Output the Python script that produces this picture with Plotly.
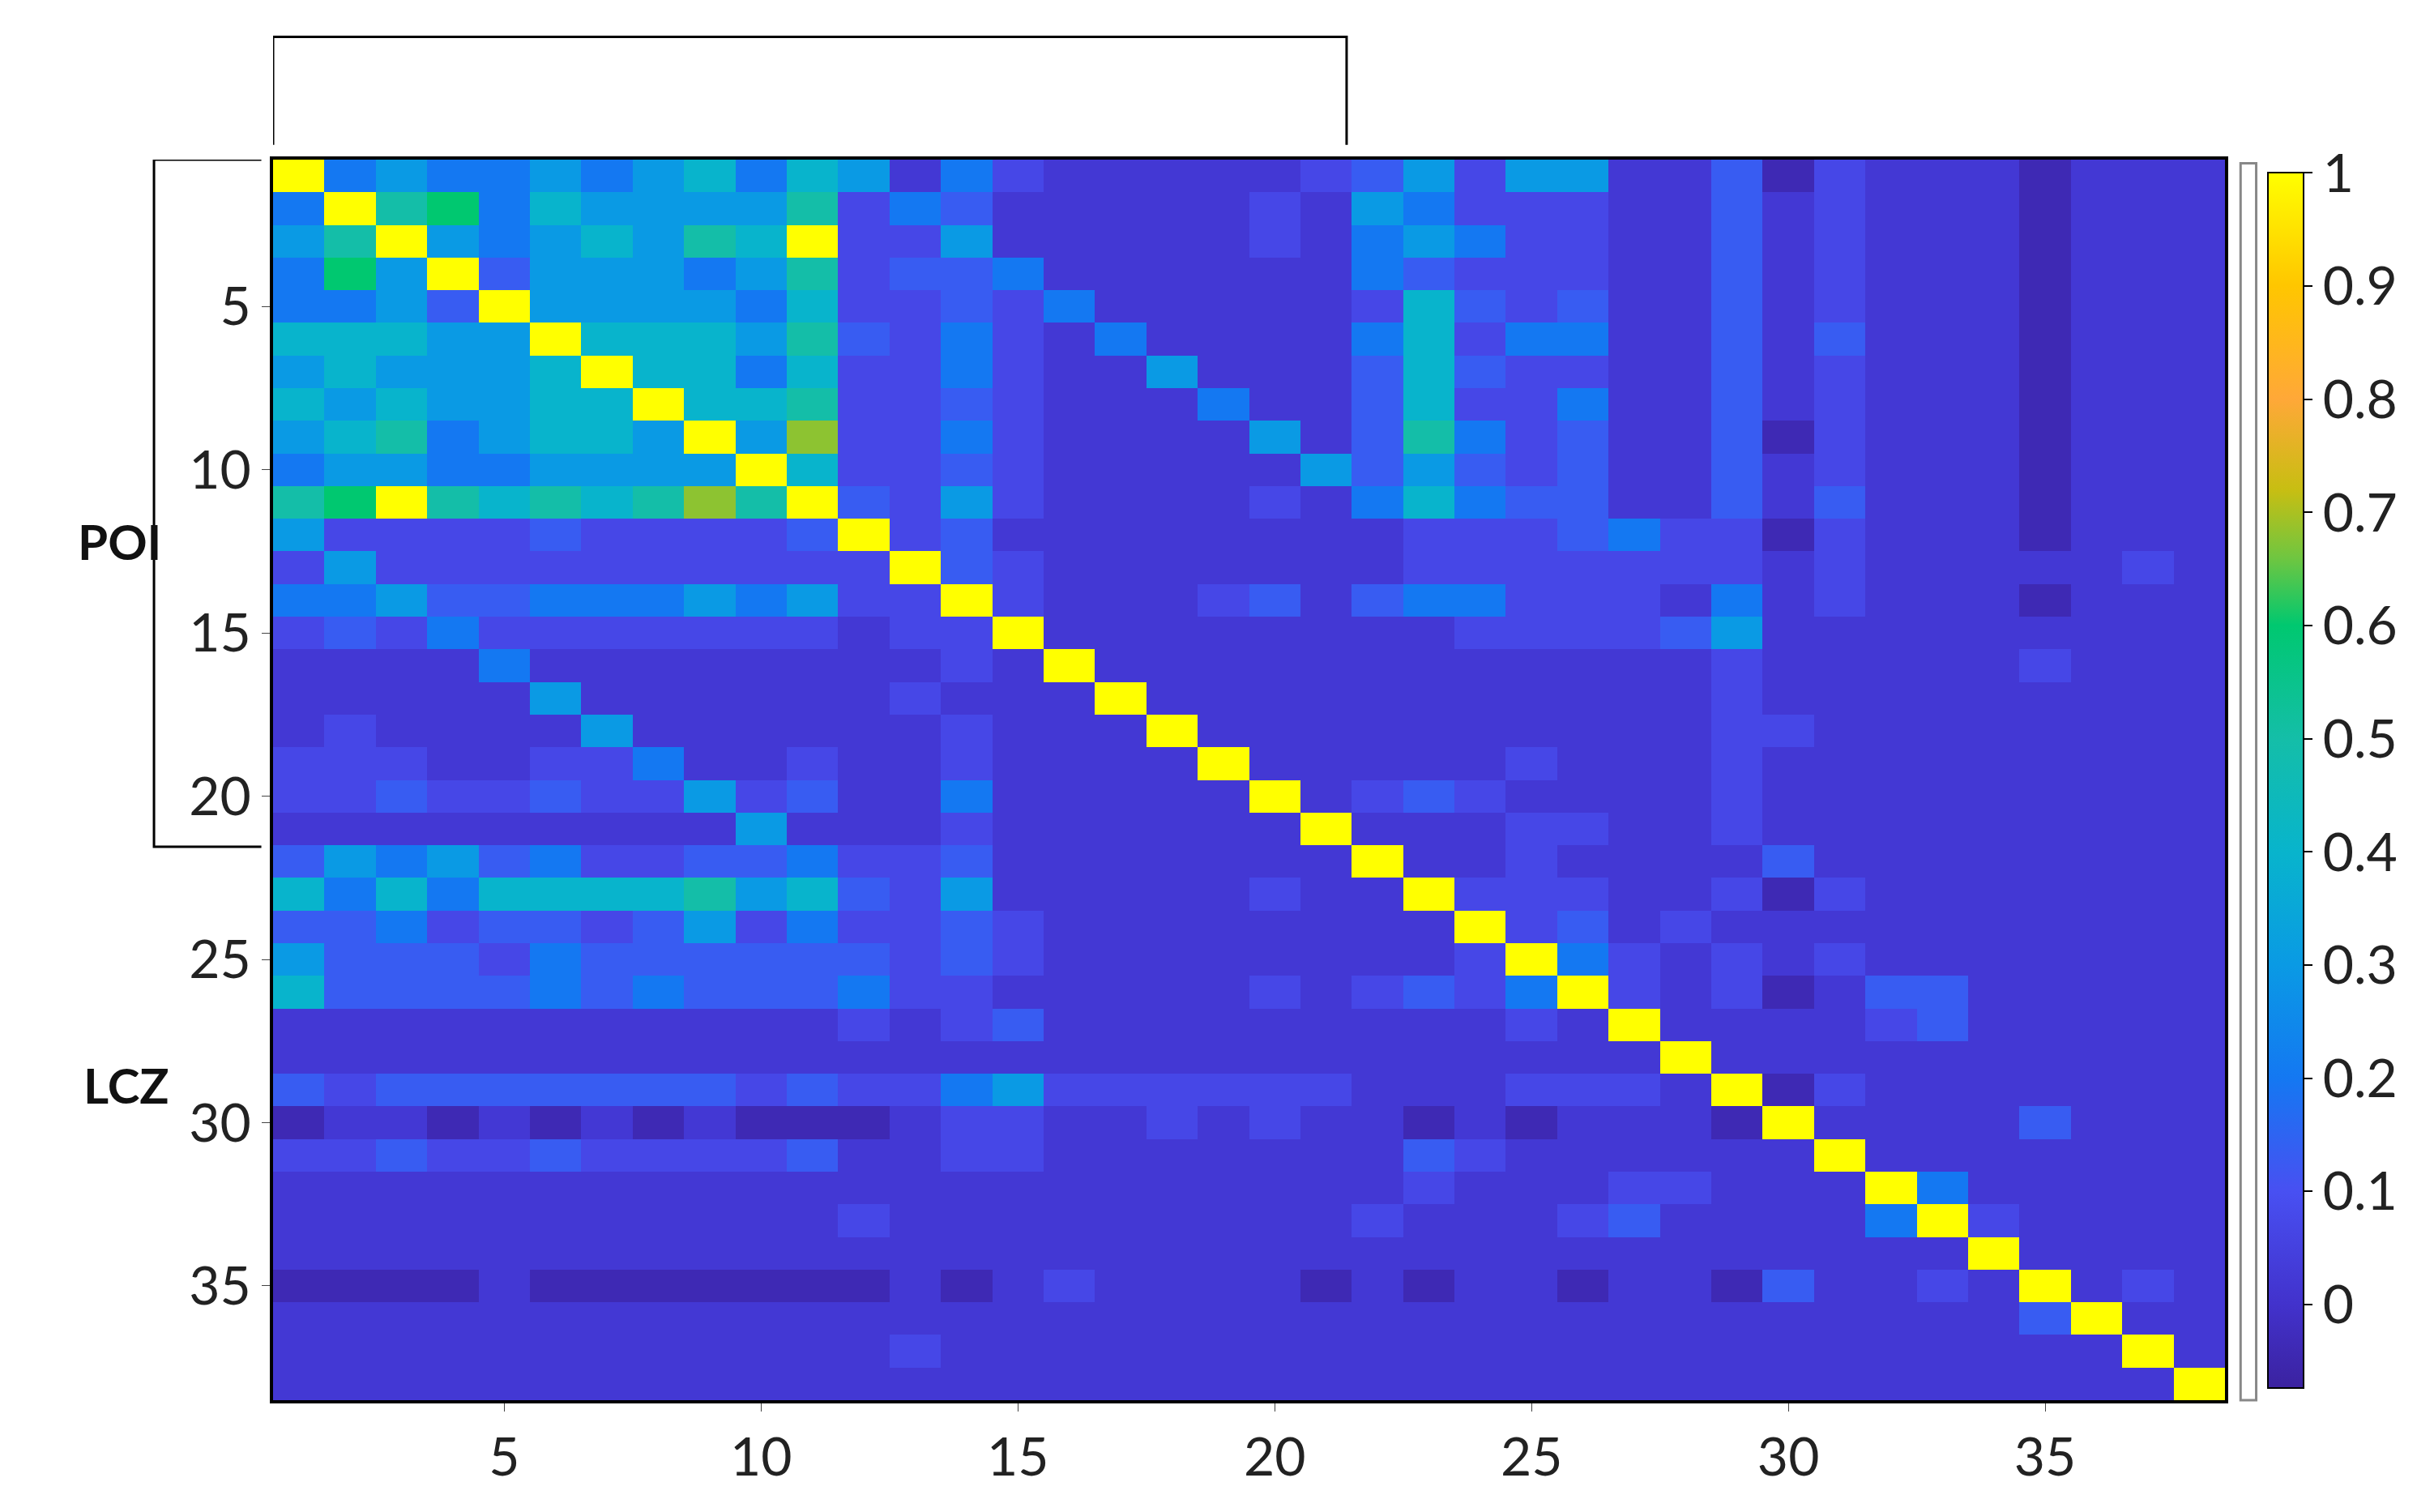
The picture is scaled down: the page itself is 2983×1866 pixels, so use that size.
import plotly.graph_objects as go

# cell codes, one string per row, grouped 10/10/10/8
levels = {"0": -0.04, "1": 0.02, "2": 0.07, "3": 0.13, "4": 0.2, "5": 0.3,
          "6": 0.4, "7": 0.5, "8": 0.6, "9": 0.68, "Y": 1.0}

rows = [
    "Y454454564 6514211111 2352551130 21110111",
    "4Y78465555 7243111112 1542221131 21110111",
    "57Y5456576 Y225111112 1454221131 21110111",
    "485Y355545 7233411111 1432221131 21110111",
    "4453Y55554 6223241111 1263231131 21110111",
    "66655Y6665 7324214111 1462441131 31110111",
    "565556Y664 6224211511 1363221131 21110111",
    "6565566Y66 7223211141 1362241131 21110111",
    "56745665Y5 9224211115 1374231130 21110111",
    "455445555Y 6223211111 5353231131 21110111",
    "78Y7676797 Y325211112 1464331131 31110111",
    "5222232222 3Y23111111 1122234220 21110111",
    "2522222222 22Y3211111 1122222221 21111121",
    "4453344454 522Y211123 1344222141 21110111",
    "2324222222 2122Y11111 1112222351 11111111",
    "1111411111 11121Y1111 1111111121 11112111",
    "1111151111 112111Y111 1111111121 11111111",
    "1211115111 1112111Y11 1111111122 11111111",
    "2221122411 21121111Y1 1111211121 11111111",
    "2232232252 311411111Y 1232111121 11111111",
    "1111111115 1112111111 Y111221121 11111111",
    "3545342233 4223111111 1Y11211113 11111111",
    "6464666675 6325111112 11Y2221120 21111111",
    "3342332352 4223211111 111Y231211 11111111",
    "5333243333 3323211111 1112Y42121 21111111",
    "6333343433 3422111112 12324Y2120 13311111",
    "1111111111 1212311111 111121Y111 12311111",
    "1111111111 1111111111 1111111Y11 11111111",
    "3233333332 3224522222 21112221Y0 21111111",
    "0110101010 0012211212 110101110Y 11113111",
    "2232232222 3112211111 1132111111 Y1111111",
    "1111111111 1111111111 1121112211 1Y411111",
    "1111111111 1211111111 1211123111 14Y21111",
    "1111111111 1111111111 1111111111 111Y1111",
    "0000100000 0010121111 0101101103 1121Y121",
    "1111111111 1111111111 1111111111 11113Y11",
    "1111111111 1121111111 1111111111 111111Y1",
    "1111111111 1111111111 1111111111 1111111Y",
]

z = []
for r in rows:
    s = r.replace(" ", "")
    assert len(s) == 38, r
    z.append([levels[c] for c in s])

ticks = [5, 10, 15, 20, 25, 30, 35]
cbar_ticks = [0, 0.1, 0.2, 0.3, 0.4, 0.5, 0.6, 0.7, 0.8, 0.9, 1]
cbar_text = ["0", "0.1", "0.2", "0.3", "0.4", "0.5", "0.6", "0.7", "0.8", "0.9", "1"]

zmin, zmax = -0.074, 1.0
stops = [(-0.074, "#3b22a0"), (0.0, "#4232cc"), (0.1, "#4850f2"), (0.2, "#1478f2"),
         (0.3, "#0a9ae4"), (0.4, "#08b4cc"), (0.5, "#14bea8"), (0.6, "#00c870"),
         (0.66, "#70c640"), (0.72, "#c8be12"), (0.8, "#ffa838"), (0.9, "#ffc600"),
         (1.0, "#ffff00")]
cscale = [[(v - zmin) / (zmax - zmin), c] for v, c in stops]

font = dict(size=66, color="#222", family="Lato")

fig = go.Figure(go.Heatmap(
    z=z, x=list(range(1, 39)), y=list(range(1, 39)),
    zmin=zmin, zmax=zmax, colorscale=cscale,
    colorbar=dict(x=1.018, xanchor="left", y=0.003, yanchor="bottom", len=0.993,
                  lenmode="fraction", thickness=44, outlinecolor="black", outlinewidth=2,
                  tickvals=cbar_ticks, ticktext=cbar_text, ticks="outside",
                  ticklen=10, tickcolor="black", tickwidth=2, tickfont=font),
))

fig.update_xaxes(range=[0.5, 38.5], tickvals=ticks, ticks="outside", ticklen=10,
                 showline=True, linecolor="black", linewidth=4, mirror=True,
                 showgrid=False, zeroline=False, tickfont=font)
fig.update_yaxes(range=[38.5, 0.5], tickvals=ticks, ticks="outside", ticklen=10,
                 showline=True, linecolor="black", linewidth=4, mirror=True,
                 showgrid=False, zeroline=False, tickfont=font)

# group brackets (paper coords are relative to the plot area)
line = dict(color="black", width=3)
fig.add_shape(type="path", xref="x", yref="paper",
              path="M 0.5 1.012 L 0.5 1.099 L 21.4 1.099 L 21.4 1.012", line=line)
fig.add_shape(type="path", xref="paper", yref="y",
              path="M -0.006 0.5 L -0.061 0.5 L -0.061 21.55 L -0.006 21.55", line=line)
# thin frame left of the colour bar
fig.add_shape(type="rect", xref="paper", yref="paper", x0=1.008, x1=1.016,
              y0=0.0, y1=0.997, line=dict(color="#888", width=3))
lab = dict(size=60, color="#111", family="Lato")
fig.add_annotation(text="<b>POI</b>", xref="paper", yref="paper", x=-0.101, y=0.717,
                   showarrow=False, font=lab)
fig.add_annotation(text="<b>LCZ</b>", xref="paper", yref="paper", x=-0.098, y=0.229,
                   showarrow=False, font=lab)

fig.update_layout(width=2983, height=1866, plot_bgcolor="white", paper_bgcolor="white",
                  margin=dict(l=329, r=245, t=189, b=146))
fig.write_html("out.html")
